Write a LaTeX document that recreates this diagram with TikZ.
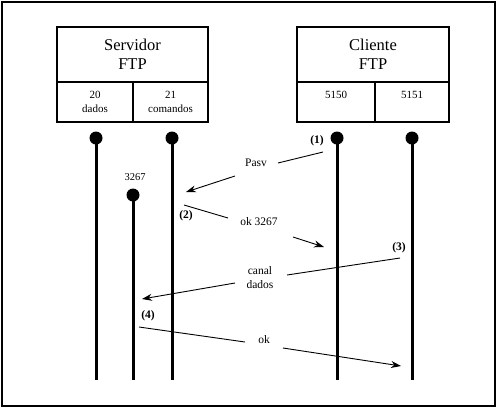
\documentclass[tikz,border=0pt]{standalone}
\usepackage{fontspec}
\setmainfont{Liberation Serif}
\usetikzlibrary{arrows.meta}
\begin{document}
\begin{tikzpicture}[x=1pt,y=-1pt,
  box/.style={draw,line width=1.8pt,inner sep=0pt,align=center},
  title/.style={box,font=\fontsize{16.5}{19}\selectfont,minimum height=55pt},
  cell/.style={box,font=\fontsize{11}{14}\selectfont,minimum height=40pt},
  dot/.style={circle,fill,inner sep=0pt,minimum size=13pt},
  life/.style={line width=3pt},
  msg/.style={line width=0.9pt},
  arr/.style={msg,-{Stealth[length=10pt,width=7pt]}},
  lbl/.style={font=\fontsize{11.5}{13.5}\selectfont,inner sep=0pt,align=center},
  num/.style={font=\bfseries\fontsize{11.5}{13}\selectfont,inner sep=0pt}]
\useasboundingbox (0,0) rectangle (497,408);
\draw[line width=2pt] (1.5,1.5) rectangle (495,406);
% server
\node[title,minimum width=151pt] (srv) at (132.5,54.5) {Servidor\\FTP};
\node[cell,minimum width=76pt] (s20) at (95,102) {20\\dados};
\node[cell,minimum width=75pt] (s21) at (170.5,102) {21\\comandos};
% client
\node[title,minimum width=152pt] (cli) at (373,54.5) {Cliente\\FTP};
\node[cell,minimum width=78pt] (c50) at (336,102) {5150\\\mbox{}};
\node[cell,minimum width=74pt] (c51) at (412,102) {5151\\\mbox{}};
% lifelines
\node[dot] (d20) at (96,138) {};
\node[dot] (d21) at (172,138) {};
\node[dot] (d50) at (337,138) {};
\node[dot] (d51) at (412,138) {};
\node[dot] (d67) at (133,195) {};
\coordinate (e20) at (96,380);
\coordinate (e21) at (172,380);
\coordinate (e50) at (337,380);
\coordinate (e51) at (412,380);
\coordinate (e67) at (133,380);
\draw[life] (d20.center) -- (e20);
\draw[life] (d21.center) -- (e21);
\draw[life] (d50.center) -- (e50);
\draw[life] (d51.center) -- (e51);
\draw[life] (d67.center) -- (e67);
\node[lbl,font=\fontsize{10.5}{12}\selectfont] (p67) at (135,177) {3267};
% labels
\node[num] (n1) at (317,141) {(1)};
\node[num] (n2) at (186,216) {(2)};
\node[num] (n3) at (399,248) {(3)};
\node[num] (n4) at (148,316) {(4)};
\node[lbl] (lpasv) at (256,163) {Pasv};
\node[lbl] (lok1) at (259,222) {ok 3267};
\node[lbl] (lcan) at (260,277.5) {canal\\dados};
\node[lbl] (lok2) at (264,340) {ok};
% message 1
\coordinate (a1s) at (323,152); \coordinate (a1m) at (278,163);
\coordinate (a1n) at (235,176); \coordinate (a1e) at (186,192);
\draw[msg] (a1s) -- (a1m); \draw[arr] (a1n) -- (a1e);
% message 2
\coordinate (a2s) at (184,205); \coordinate (a2m) at (228,218);
\coordinate (a2n) at (293,237); \coordinate (a2e) at (324,247);
\draw[msg] (a2s) -- (a2m); \draw[arr] (a2n) -- (a2e);
% message 3
\coordinate (a3s) at (400,258); \coordinate (a3m) at (287,275);
\coordinate (a3n) at (235,283); \coordinate (a3e) at (142,299);
\draw[msg] (a3s) -- (a3m); \draw[arr] (a3n) -- (a3e);
% message 4
\coordinate (a4s) at (139,327); \coordinate (a4m) at (245,342);
\coordinate (a4n) at (283,348); \coordinate (a4e) at (401,366);
\draw[msg] (a4s) -- (a4m); \draw[arr] (a4n) -- (a4e);
\end{tikzpicture}
\end{document}
